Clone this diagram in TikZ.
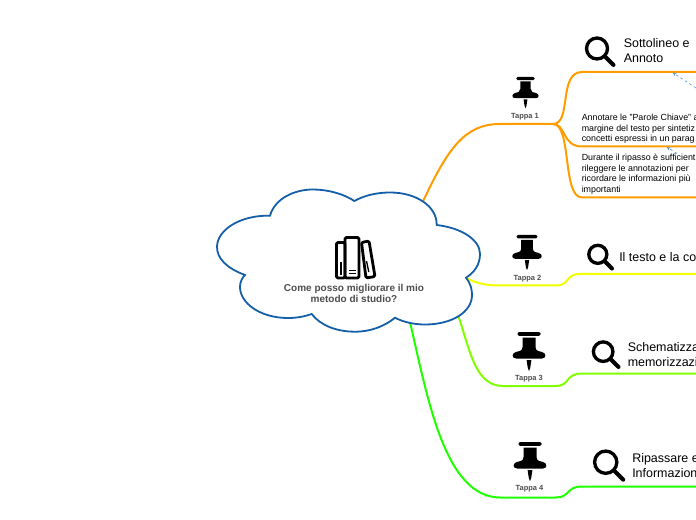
\documentclass[tikz,border=0pt]{standalone}
\usepackage{fontspec}
\setmainfont{Liberation Sans}
\usetikzlibrary{arrows.meta}
\definecolor{cloudblue}{HTML}{155FA8}
\definecolor{branchA}{HTML}{FF9D00}
\definecolor{branchB}{HTML}{F2FF00}
\definecolor{branchC}{HTML}{7FFF00}
\definecolor{branchD}{HTML}{1FFF00}
\definecolor{labelgrey}{HTML}{4D4D4D}
\definecolor{linkblue}{HTML}{5B9BD5}
\tikzset{
  x=0.75pt,y=-0.75pt,
  branch/.style={line width=1.5pt,line cap=round},
  topic/.style={inner sep=0pt,anchor=west,align=left,font=\fontsize{9.35}{10.9}\selectfont,text=black},
  note/.style={inner sep=0pt,anchor=west,align=left,font=\fontsize{6.65}{7.9}\selectfont,text=black},
  tappa/.style={inner sep=0pt,font=\fontsize{5.6}{6}\selectfont\bfseries,text=labelgrey},
  rootlabel/.style={inner sep=0pt,align=center,font=\fontsize{7.5}{8.2}\selectfont\bfseries,text=labelgrey},
  link/.style={linkblue,dashed,dash pattern=on 2pt off 2pt,line width=.5pt,-{Stealth[length=3pt,width=2.5pt]}},
  pics/pinicon/.style={code={
    \fill[rounded corners=1pt] (-11.5,0) rectangle (11.5,3.8);
    \fill (-6.5,5.5) -- (6.5,5.5) -- (6.5,15) .. controls (6.5,19) and (10,19.5) .. (13,20)
      .. controls (17.5,21) and (17.5,26.5) .. (13,26.5) -- (-13,26.5)
      .. controls (-17.5,26.5) and (-17.5,21) .. (-13,20) .. controls (-10,19.5) and (-6.5,19) .. (-6.5,15) -- cycle;
    \fill (-2.4,28) -- (2.4,28) -- (1.2,36) -- (0,39) -- (-1.2,36) -- cycle;
  }},
  pics/lensicon/.style={code={
    \draw[line width=2.5pt] (12,12) circle (10.5);
    \draw[line width=3pt,line cap=round] (20,20) -- (28.5,28.5);
  }}
}
\begin{document}
\begin{tikzpicture}
\useasboundingbox (0,0) rectangle (696,520);
\clip (0,0) rectangle (696,520);
% anchors
\coordinate (rootA) at (423,201.5);
\coordinate (rootB) at (466,278);
\coordinate (rootC) at (458,315);
\coordinate (rootD) at (410,322);
\coordinate (hubA) at (553,124);
\coordinate (edgeA1) at (696,72);
\coordinate (edgeA2) at (696,146.5);
\coordinate (edgeA3) at (696,197.5);
\coordinate (edgeB) at (696,274);
\coordinate (edgeC) at (696,373.5);
\coordinate (edgeD) at (696,486.5);
\coordinate (linkS1) at (696,88);
\coordinate (linkE1) at (672.5,72.5);
\coordinate (linkS2) at (677,153.5);
\coordinate (linkE2) at (666.5,147);
% branches
\draw[branch,branchD] (rootD) .. controls (428,400) and (445,497) .. (500,497.5) -- (556,497.5)
  .. controls (570,497.5) and (566,486.5) .. (582,486.5) -- (edgeD);
\draw[branch,branchC] (rootC) .. controls (470,350) and (475,386) .. (503,386) -- (556,386)
  .. controls (570,386) and (565,373.5) .. (582,373.5) -- (edgeC);
\draw[branch,branchB] (rootB) .. controls (478,284) and (488,285.5) .. (500,285.5) -- (556,285.5)
  .. controls (570,285.5) and (565,274) .. (580,274) -- (edgeB);
\draw[branch,branchA] (rootA) .. controls (448,148) and (465,124) .. (500,124) -- (hubA);
\draw[branch,branchA] (hubA) .. controls (572,124) and (558,72) .. (582,72) -- (edgeA1);
\draw[branch,branchA] (hubA) .. controls (566,124) and (562,146.5) .. (582,146.5) -- (edgeA2);
\draw[branch,branchA] (hubA) .. controls (572,124) and (562,197.5) .. (582,197.5) -- (edgeA3);
\draw[link] (linkS1) -- (linkE1);
\draw[link] (linkS2) -- (linkE2);
% cloud
\draw[cloudblue,line width=1.35pt,fill=white]
  (245,275) .. controls (226,268) and (217,258) .. (217,247)
  .. controls (217,230) and (240,215) .. (270,215.7)
  .. controls (275,198) and (295,189.5) .. (313,189.5)
  .. controls (328,189.5) and (344,194) .. (354.3,201)
  .. controls (365,195) and (378,192.5) .. (390,192.5)
  .. controls (416,192.5) and (437,206) .. (436.7,225)
  .. controls (462,228) and (480,240) .. (480,254)
  .. controls (480,264) and (475,272) .. (466,277.7)
  .. controls (471,284) and (472,290) .. (472,295)
  .. controls (472,312) and (452,324.5) .. (425,324.5)
  .. controls (414,324.5) and (403,322) .. (395,317.7)
  .. controls (385,326) and (371,331.7) .. (355,331.7)
  .. controls (336,331.7) and (320,325) .. (311.7,314)
  .. controls (303,317) and (296,318) .. (288,318)
  .. controls (260,318) and (240,303) .. (240,287)
  .. controls (240,282) and (242,278) .. (245,275) -- cycle;
% books icon
\begin{scope}[line width=2.1pt,rounded corners=1pt,line join=round]
  \draw (336.5,242.5) rectangle (345,278);
  \draw (345,237.5) rectangle (359,278);
  \draw (361.5,242.5) -- (369,241) -- (375,276.5) -- (366,278) -- cycle;
\end{scope}
\draw[line width=1.1pt] (340.8,262) -- (340.8,275);
\draw[line width=.8pt] (349,270.5) -- (355.5,270.5);
\draw[line width=.8pt] (349,273.8) -- (355.5,273.8);
\draw[line width=1pt] (366.5,261) -- (368.8,272);
\node[rootlabel] (root) at (354,293.5) {Come posso migliorare il mio\\metodo di studio?};
% pins
\pic[scale=0.8] at (525.5,77) {pinicon};
\pic[scale=0.9] at (527,235) {pinicon};
\pic at (529,332) {pinicon};
\pic at (530,442) {pinicon};
\node[tappa] (t1) at (525,116.5) {Tappa 1};
\node[tappa] (t2) at (527.5,278.5) {Tappa 2};
\node[tappa] (t3) at (529,378.5) {Tappa 3};
\node[tappa] (t4) at (529.5,489) {Tappa 4};
% lenses
\pic[scale=1.0] at (585,36.5) {lensicon};
\pic[scale=0.86] at (587.5,244) {lensicon};
\pic[scale=0.93] at (592,340.5) {lensicon};
\pic[scale=1.06] at (593,449.5) {lensicon};
% texts
\node[topic] (s1) at (623.5,50.5) {Sottolineo e\\Annoto};
\node[topic] (s2) at (619,257) {Il testo e la co};
\node[topic] (s3) at (627.5,354.5) {Schematizza\\memorizzazi};
\node[topic] (s4) at (632,465.5) {Ripassare e\\Informazion};
\node[note] (n1) at (581.5,129) {Annotare le "Parole Chiave" a\\margine del testo per sintetiz\\concetti espressi in un parag};
\node[note] (n2) at (581.5,174) {Durante il ripasso è sufficient\\rileggere le annotazioni per\\ricordare le informazioni più\\importanti};
\end{tikzpicture}
\end{document}
